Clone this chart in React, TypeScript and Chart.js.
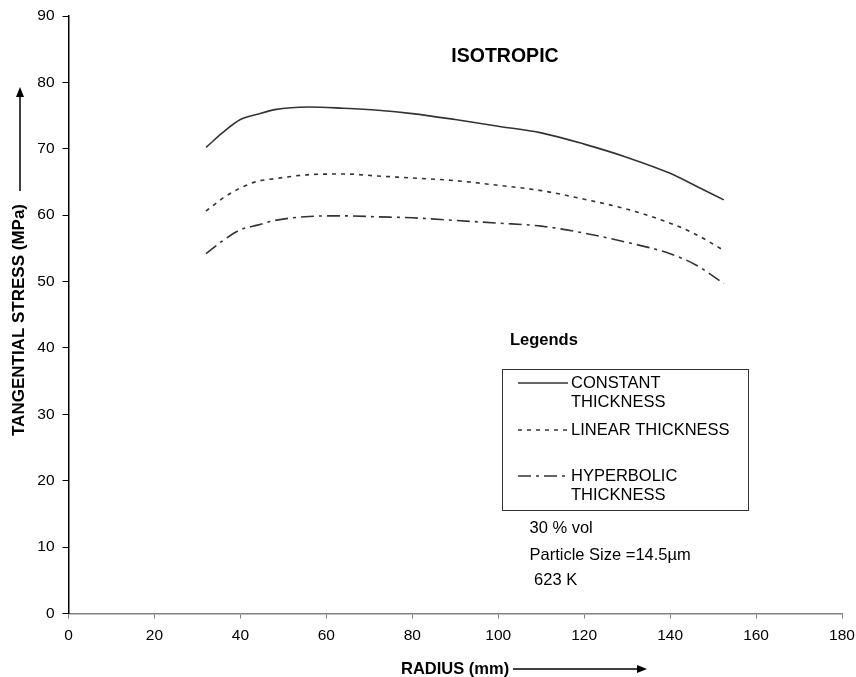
import React, { useEffect, useRef } from "react";
import { Chart, registerables } from "chart.js";

Chart.register(...registerables);

const radius = [32, 36, 40, 44, 48, 56, 64, 72, 80, 90, 100, 110, 120, 130, 140, 146, 152.5];
const constantThickness = [70.2, 72.5, 74.4, 75.2, 75.9, 76.3, 76.1, 75.8, 75.3, 74.4, 73.4, 72.4, 70.7, 68.7, 66.3, 64.4, 62.3];
const linearThickness = [60.6, 62.6, 64.1, 65.1, 65.5, 66.1, 66.2, 65.9, 65.6, 65.2, 64.5, 63.7, 62.4, 60.9, 58.8, 57.1, 54.7];
const hyperbolicThickness = [54.2, 56.2, 57.8, 58.5, 59.2, 59.8, 59.9, 59.75, 59.6, 59.2, 58.8, 58.35, 57.3, 55.9, 54.2, 52.5, 49.7];

const seriesNames = ["CONSTANT\nTHICKNESS", "LINEAR THICKNESS", "HYPERBOLIC\nTHICKNESS"];
const dashes: number[][] = [[], [4, 5], [13, 5, 3, 5]];
const annotations = ["30 % vol", "Particle Size =14.5µm", " 623 K"];
const chartTitle = "ISOTROPIC";
const xTitle = "RADIUS (mm)";
const yTitle = "TANGENTIAL STRESS (MPa)";

const FONT = "'Liberation Sans', Arial, sans-serif";
const LINE_COLOR = "#333333";

function arrow(ctx: CanvasRenderingContext2D, x1: number, y1: number, x2: number, y2: number) {
  const ang = Math.atan2(y2 - y1, x2 - x1);
  const hl = 10, hw = 4;
  ctx.beginPath();
  ctx.moveTo(x1, y1);
  ctx.lineTo(x2 - Math.cos(ang) * hl * 0.8, y2 - Math.sin(ang) * hl * 0.8);
  ctx.stroke();
  ctx.beginPath();
  ctx.moveTo(x2, y2);
  ctx.lineTo(x2 - Math.cos(ang) * hl - Math.sin(ang) * hw, y2 - Math.sin(ang) * hl + Math.cos(ang) * hw);
  ctx.lineTo(x2 - Math.cos(ang) * hl + Math.sin(ang) * hw, y2 - Math.sin(ang) * hl - Math.cos(ang) * hw);
  ctx.closePath();
  ctx.fill();
}

const overlay = {
  id: "overlay",
  afterDraw(chart: any) {
    const ctx: CanvasRenderingContext2D = chart.ctx;
    ctx.save();
    ctx.fillStyle = "#000";
    ctx.strokeStyle = "#000";
    ctx.textBaseline = "middle";

    ctx.font = `bold 19.5px ${FONT}`;
    ctx.textAlign = "center";
    ctx.fillText(chartTitle, 505, 57);

    ctx.font = `bold 16.5px ${FONT}`;
    ctx.textAlign = "left";
    ctx.fillText(xTitle, 401, 669);
    ctx.lineWidth = 1.5;
    arrow(ctx, 513, 669, 647, 669);

    ctx.save();
    ctx.translate(19, 320);
    ctx.rotate(-Math.PI / 2);
    ctx.font = `bold 17px ${FONT}`;
    ctx.textAlign = "center";
    ctx.fillText(yTitle, 0, 0);
    ctx.restore();
    arrow(ctx, 20, 191, 20, 87);

    ctx.font = `bold 16.5px ${FONT}`;
    ctx.textAlign = "left";
    ctx.fillText("Legends", 510, 340);

    ctx.lineWidth = 1;
    ctx.strokeStyle = "#333";
    ctx.strokeRect(502.5, 369.5, 246, 141);

    ctx.font = `16.5px ${FONT}`;
    const rows = [383, 430, 476];
    seriesNames.forEach((name, i) => {
      ctx.save();
      ctx.strokeStyle = LINE_COLOR;
      ctx.lineWidth = 1.5;
      ctx.setLineDash(dashes[i]);
      ctx.beginPath();
      ctx.moveTo(518, rows[i]);
      ctx.lineTo(568, rows[i]);
      ctx.stroke();
      ctx.restore();
      name.split("\n").forEach((ln, j) => {
        ctx.fillText(ln, 571, rows[i] + j * 19);
      });
    });

    const ay = [528, 555, 580];
    annotations.forEach((t, i) => ctx.fillText(t, 529.5, ay[i]));
    ctx.restore();
  },
};

export default function App() {
  const ref = useRef<HTMLCanvasElement | null>(null);
  useEffect(() => {
    if (!ref.current) return;
    const mk = (data: number[], i: number) => ({
      label: seriesNames[i],
      data: radius.map((r, k) => ({ x: r, y: data[k] })),
      borderColor: LINE_COLOR,
      borderWidth: 1.6,
      borderDash: dashes[i],
      pointRadius: 0,
      fill: false,
      cubicInterpolationMode: "monotone" as const,
    });
    const chart = new Chart(ref.current, {
      type: "line",
      data: {
        datasets: [
          mk(constantThickness, 0),
          mk(linearThickness, 1),
          mk(hyperbolicThickness, 2),
        ],
      },
      options: {
        responsive: false,
        animation: false,
        layout: { padding: { top: 16, right: 14, left: 0, bottom: 0 } },
        plugins: { legend: { display: false }, tooltip: { enabled: false }, title: { display: false } },
        scales: {
          x: {
            type: "linear",
            min: 0,
            max: 180,
            afterFit: (s: any) => { s.height = 63.5; s.paddingRight = 0; s.paddingLeft = 0; },
            border: { display: true, color: "#808080", width: 1.5 },
            grid: { drawOnChartArea: false, drawTicks: true, tickLength: 5, color: "#808080" },
            ticks: { stepSize: 20, color: "#000", font: { family: FONT, size: 15.5 }, padding: 8, maxRotation: 0 },
          },
          y: {
            min: 0,
            max: 90,
            afterFit: (s: any) => { s.width = 68.5; s.paddingTop = 0; s.paddingBottom = 0; },
            border: { display: true, color: "#000", width: 1.5 },
            grid: { drawOnChartArea: false, drawTicks: true, tickLength: 6, color: "#000" },
            ticks: { stepSize: 10, color: "#000", font: { family: FONT, size: 15.5 }, padding: 8 },
          },
        },
      },
      plugins: [overlay],
    });
    return () => chart.destroy();
  }, []);
  return (
    <div style={{ position: "fixed", left: 0, top: 0, width: 856, height: 677, background: "#fff" }}>
      <canvas ref={ref} width={856} height={677} />
    </div>
  );
}
